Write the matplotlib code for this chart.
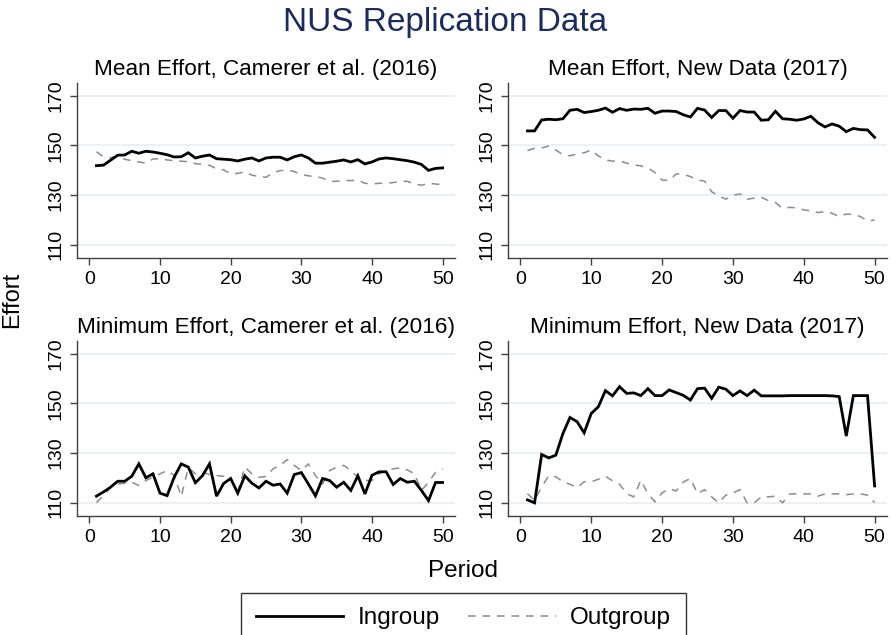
import matplotlib.pyplot as plt
from matplotlib.lines import Line2D

plt.rcParams['font.family'] = ['Liberation Sans', 'DejaVu Sans']

# Périodes 1..50
periods = list(range(1, 51))

# Effort moyen, Camerer et al. (2016)
mean_cam_in = [141.8, 142.0, 144.0, 146.0, 146.1, 147.6, 146.8, 147.6, 147.3, 146.8,
               146.2, 145.3, 145.4, 147.0, 144.9, 145.6, 146.1, 144.6, 144.4, 144.2,
               143.7, 144.4, 144.9, 143.7, 144.9, 145.2, 145.2, 144.1, 145.4, 146.1,
               144.9, 142.8, 142.8, 143.2, 143.6, 144.1, 143.3, 144.2, 142.5, 143.3,
               144.5, 144.9, 144.6, 144.2, 143.8, 143.2, 142.3, 139.9, 140.7, 140.9]
mean_cam_out = [147.4, 145.4, 145.0, 145.7, 144.4, 143.8, 143.3, 142.8, 144.5, 144.6,
                144.1, 143.8, 143.6, 143.4, 142.6, 142.3, 141.9, 140.6, 140.1, 138.5,
                138.7, 139.3, 138.0, 137.4, 137.1, 139.0, 139.8, 140.1, 139.4, 138.3,
                137.7, 137.4, 136.8, 135.4, 135.5, 135.8, 135.8, 136.0, 134.7, 134.4,
                134.7, 134.7, 135.0, 135.4, 135.5, 134.4, 133.9, 134.7, 134.4, 134.2]

# Effort moyen, nouvelles données (2017)
mean_new_in = [155.8, 155.8, 160.2, 160.5, 160.3, 160.7, 164.1, 164.5, 163.2, 163.6,
               164.1, 165.0, 163.3, 164.8, 164.1, 164.6, 164.5, 164.9, 162.9, 163.8,
               163.8, 163.6, 162.3, 161.4, 164.9, 164.2, 161.2, 164.0, 164.0, 160.9,
               164.0, 163.4, 163.4, 160.1, 160.3, 163.7, 160.7, 160.5, 160.1, 160.6,
               161.7, 159.1, 157.4, 158.6, 157.7, 155.5, 156.8, 156.3, 156.2, 153.2]
mean_new_out = [147.9, 148.8, 148.9, 149.7, 148.1, 146.2, 145.8, 146.5, 147.0, 148.1,
                145.7, 144.1, 143.6, 143.7, 142.8, 142.1, 141.7, 140.9, 139.0, 136.0,
                135.8, 138.5, 138.3, 137.4, 136.0, 135.6, 131.3, 129.6, 128.3, 129.9,
                130.4, 128.3, 128.7, 129.1, 127.7, 126.9, 124.6, 125.0, 124.8, 124.0,
                123.6, 122.9, 123.3, 122.6, 121.3, 122.3, 122.1, 121.3, 119.5, 119.9]

# Effort minimum, Camerer et al. (2016)
min_cam_in = [112.6, 114.3, 116.2, 118.6, 118.6, 120.6, 125.6, 120.0, 121.6, 113.8,
              112.8, 120.2, 125.6, 124.3, 118.0, 120.8, 125.6, 112.6, 117.7, 119.7,
              113.8, 120.8, 117.8, 115.9, 118.6, 117.0, 117.5, 113.8, 121.3, 122.1,
              117.5, 112.7, 119.7, 118.9, 116.2, 118.2, 114.9, 120.8, 113.5, 121.0,
              122.4, 122.4, 117.3, 119.7, 118.2, 118.6, 114.9, 110.8, 118.1, 118.1]
min_cam_out = [110.0, 112.8, 116.2, 117.5, 117.8, 118.2, 116.9, 118.9, 120.2, 121.6,
               122.9, 121.0, 112.5, 124.0, 121.6, 122.3, 121.3, 120.9, 120.6, 119.6,
               114.2, 124.3, 121.6, 120.2, 120.5, 123.6, 125.0, 127.3, 125.0, 122.9,
               125.6, 120.9, 117.5, 122.9, 124.3, 125.0, 122.9, 120.2, 118.9, 118.9,
               121.6, 122.9, 123.6, 124.0, 123.2, 121.6, 114.9, 118.2, 122.2, 123.6]

# Effort minimum, nouvelles données (2017)
min_new_in = [111.1, 109.9, 129.4, 128.0, 129.1, 137.8, 144.3, 142.6, 138.1, 145.9,
              148.6, 155.1, 153.0, 156.7, 154.0, 154.2, 153.1, 155.9, 153.1, 153.1,
              155.4, 154.3, 153.2, 151.3, 155.9, 156.1, 152.0, 156.5, 155.7, 153.1,
              155.0, 153.1, 155.3, 153.0, 153.0, 153.0, 153.0, 153.1, 153.1, 153.1,
              153.1, 153.1, 153.1, 153.0, 152.7, 136.8, 153.1, 153.1, 153.1, 116.7]
min_new_out = [113.6, 110.9, 116.3, 120.8, 120.4, 118.4, 117.4, 116.0, 118.4, 118.4,
               119.4, 120.6, 118.8, 117.4, 113.6, 112.3, 119.0, 113.6, 110.3, 113.9,
               115.6, 114.7, 118.3, 119.7, 113.6, 115.2, 112.3, 109.9, 113.0, 113.9,
               115.2, 109.9, 109.9, 112.3, 112.3, 112.6, 109.9, 113.5, 113.5, 113.5,
               113.5, 112.6, 113.5, 113.5, 113.5, 113.2, 113.5, 113.5, 113.0, 110.0]

titles = ["Mean Effort, Camerer et al. (2016)", "Mean Effort, New Data (2017)",
          "Minimum Effort, Camerer et al. (2016)", "Minimum Effort, New Data (2017)"]
series = [(mean_cam_in, mean_cam_out), (mean_new_in, mean_new_out),
          (min_cam_in, min_cam_out), (min_new_in, min_new_out)]
y_ticks = [110, 130, 150, 170]
x_ticks = [0, 10, 20, 30, 40, 50]

W, H = 891, 635
fig = plt.figure(figsize=(W / 100, H / 100), dpi=100)

# positions des panneaux en pixels (gauche, haut, largeur, hauteur)
boxes = [(77, 83, 378, 175), (508, 83, 379, 175),
         (77, 341, 378, 175), (508, 341, 379, 175)]

in_style = dict(color="black", lw=2.0, solid_joinstyle="miter")
out_style = dict(color="#8c8c8c", lw=1.1, dashes=(5, 4.5))

for (l, t, w, h), title, (s_in, s_out) in zip(boxes, titles, series):
    ax = fig.add_axes([l / W, (H - t - h) / H, w / W, h / H])
    ax.plot(periods, s_in, **in_style, zorder=3)
    ax.plot(periods, s_out, **out_style, zorder=2)
    ax.set_xlim(-1.75, 51.75)
    ax.set_ylim(104.6, 175.1)
    ax.set_yticks(y_ticks)
    ax.set_xticks(x_ticks)
    ax.grid(axis="y", color="#e6eff2", lw=1.2, zorder=0)
    for side in ["top", "right"]:
        ax.spines[side].set_visible(False)
    for side in ["left", "bottom"]:
        ax.spines[side].set_color("#404040")
        ax.spines[side].set_linewidth(1.0)
    ax.tick_params(axis="both", labelsize=14, length=5, width=1.0,
                   color="#404040", pad=4)
    plt.setp(ax.get_yticklabels(), rotation=90, va="center")
    ax.set_title(title, fontsize=16.2, pad=6)

fig.text(0.5, 1 - 22 / H, "NUS Replication Data", ha="center", va="center",
         fontsize=24, color="#1c2b5e")
fig.text(12 / W, 1 - 300 / H, "Effort", rotation=90, ha="center",
         va="center", fontsize=17)
fig.text(463 / W, 1 - 571 / H, "Period", ha="center", va="center", fontsize=17.5)

handles = [Line2D([], [], **in_style), Line2D([], [], **out_style)]
leg = fig.legend(handles, ["Ingroup", "Outgroup"], loc="upper center",
                 bbox_to_anchor=(463.5 / W, 1 - 592.5 / H), ncol=2,
                 fontsize=17.5, handlelength=3.6, handletextpad=0.6,
                 columnspacing=1.15, fancybox=False, borderpad=0.6,
                 borderaxespad=0, frameon=True)
leg.get_frame().set_edgecolor("black")
leg.get_frame().set_linewidth(1.0)

plt.savefig("out.png", dpi=100)
